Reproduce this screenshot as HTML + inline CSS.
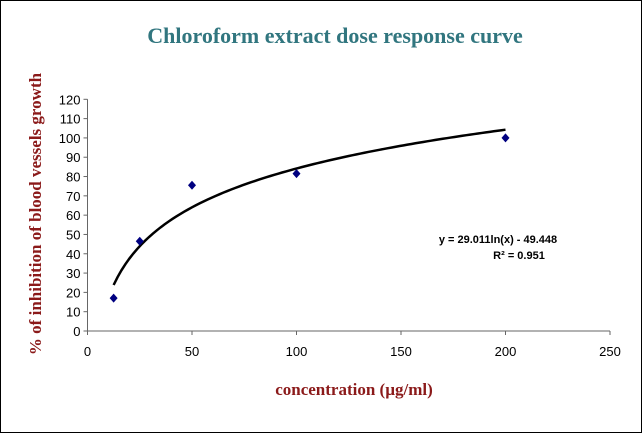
<!DOCTYPE html>
<html><head><meta charset="utf-8"><style>
html,body{margin:0;padding:0;background:#fff}
#c{position:relative;width:642px;height:433px;box-sizing:border-box;border:1px solid #000;overflow:hidden}
</style></head><body>
<div id="c">
<svg id="s" width="640" height="431" style="position:absolute;left:0;top:0">
<text x="334" y="42" text-anchor="middle" font-family="Liberation Serif, serif" font-weight="bold" font-size="22" fill="#31767f">Chloroform extract dose response curve</text>
<text transform="translate(40,213) rotate(-90)" text-anchor="middle" font-family="Liberation Serif, serif" font-weight="bold" font-size="17" fill="#8b1a1a">% of inhibition of blood vessels growth</text>
<text x="353" y="394" text-anchor="middle" font-family="Liberation Serif, serif" font-weight="bold" font-size="17" fill="#8b1a1a">concentration (µg/ml)</text>
<text x="497" y="242" text-anchor="middle" font-family="Liberation Sans, sans-serif" font-weight="bold" font-size="11" fill="#000">y = 29.011ln(x) - 49.448</text>
<text x="518" y="258" text-anchor="middle" font-family="Liberation Sans, sans-serif" font-weight="bold" font-size="11" fill="#000">R² = 0.951</text>
<g id="g"></g>
</svg>
</div>
<script>
const xTicks=[0,50,100,150,200,250];
const yTicks=[0,10,20,30,40,50,60,70,80,90,100,110,120];
const concentrations=[12.5,25,50,100,200];
const inhibition=[17,46.5,75.5,81.5,100];
const fitA=29.011, fitB=-49.448;
const X0=86.5,X1=609,Y0=330,Y1=98.3;
const sx=v=>X0+(v-0)/(250)*(X1-X0);
const sy=v=>Y0-(v/120)*(Y0-Y1);
const NS='http://www.w3.org/2000/svg';
const g=document.getElementById('g');
function mk(t,a){const e=document.createElementNS(NS,t);for(const k in a)e.setAttribute(k,a[k]);g.appendChild(e);return e;}
let e=mk('line',{x1:X0,y1:Y0,x2:X1,y2:Y0,stroke:'#666','stroke-width':1});


e=mk('line',{x1:X0,y1:Y0,x2:X0,y2:Y1,stroke:'#666','stroke-width':1});


xTicks.forEach(v=>{
 const x=sx(v);
 let t=mk('line',{x1:x,y1:Y0,x2:x,y2:Y0+4,stroke:'#666'});
 
 
 let l=mk('text',{x:x,y:Y0+25,'text-anchor':'middle','font-family':'Liberation Sans, sans-serif','font-size':13});
 l.textContent=v;
 
 
});
yTicks.forEach(v=>{
 const y=sy(v);
 let t=mk('line',{x1:X0-4,y1:y,x2:X0,y2:y,stroke:'#666'});
 
 
 let l=mk('text',{x:X0-7,y:y+5,'text-anchor':'end','font-family':'Liberation Sans, sans-serif','font-size':13});
 l.textContent=v;
 
 
});
let d='';
const xmin=concentrations[0],xmax=concentrations[concentrations.length-1];
for(let i=0;i<=100;i++){const xv=xmin+(xmax-xmin)*i/100;const yv=fitA*Math.log(xv)+fitB;d+=(i?'L':'M')+sx(xv).toFixed(2)+','+sy(yv).toFixed(2);}
e=mk('path',{d:d,fill:'none',stroke:'#000','stroke-width':2.5});


concentrations.forEach((c,i)=>{
 const x=sx(c),y=sy(inhibition[i]);
 const p=mk('polygon',{points:`${x},${y-4.5} ${x+4},${y} ${x},${y+4.5} ${x-4},${y}`,fill:'#000080'});
 
 
});
</script>
</body></html>
